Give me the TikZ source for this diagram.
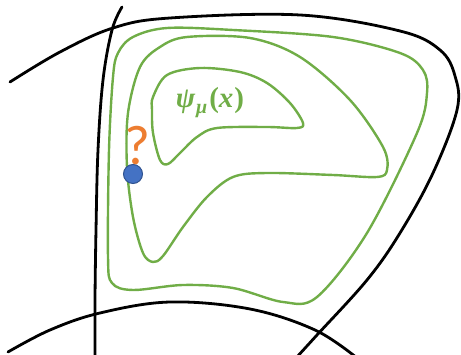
\documentclass[tikz,border=0pt]{standalone}
\usepackage{fontspec}
\newfontfamily\qfont{Carlito}
\newfontfamily\labserif{Liberation Serif}
\definecolor{cgreen}{HTML}{70AD47}
\definecolor{corange}{HTML}{ED7D31}
\definecolor{cblue}{HTML}{4472C4}
\definecolor{cblueb}{HTML}{2F528F}
\tikzset{
  blackline/.style={black, line width=2.8pt, line cap=round},
  greenline/.style={cgreen, line width=2.4pt, line join=round},
  labstyle/.style={text=cgreen, inner sep=0pt, font=\labserif\fontsize{29}{34}\selectfont\bfseries},
  qstyle/.style={text=corange, inner sep=0pt, font=\qfont\fontsize{56}{62}\selectfont},
}
\begin{document}
\begin{tikzpicture}[x=1pt,y=-1pt]
\useasboundingbox (0,0) rectangle (461,355);
\begin{scope}
\clip (0,0) rectangle (461,355);
\draw[blackline] plot[smooth, tension=0.6] coordinates {(10,82) (60,52) (113,28) (170,18) (300,15) (400,31) (440,50) (455,76) (457,110) (433,173) (400,233) (367,280) (317,335) (296,358)};
\draw[blackline] plot[smooth, tension=0.6] coordinates {(122,7) (112,30) (103,80) (98,150) (96,230) (95,300) (95,360)};
\draw[blackline] plot[smooth, tension=0.6] coordinates {(8,352) (50,330) (100,313) (170,302) (250,309) (315,330) (357,358)};
\draw[greenline] plot[smooth cycle, tension=0.55] coordinates {(113,77) (109,150) (108,257) (112,283) (133,290) (183,285) (233,288) (283,302) (317,297) (367,233) (417,133) (427,93) (423,70) (400,53) (333,37) (233,30) (167,28) (133,37) (118,53)};
\draw[greenline] plot[smooth cycle, tension=0.55] coordinates {(187,37) (250,38) (300,57) (350,100) (383,147) (387,170) (377,177) (333,175) (267,173) (233,177) (207,197) (183,227) (163,256) (153,262) (143,253) (133,217) (127,167) (128,113) (140,67) (160,47)};
\draw[greenline] plot[smooth cycle, tension=0.55] coordinates {(153,97) (167,75) (200,68) (240,72) (267,83) (290,103) (303,123) (297,128) (267,127) (217,128) (197,137) (180,153) (168,164) (160,160) (153,133) (152,110)};
\end{scope}
\node[labstyle] (lab) at (210,103) {\itshape ψ\kern1pt\raisebox{-6pt}{\fontsize{20}{24}\selectfont μ}\kern2pt\upshape(\itshape x\kern1pt\upshape)};
\node[qstyle] (q) at (137,146) {?};
\node[circle, fill=cblue, draw=cblueb, line width=1pt, minimum size=19pt, inner sep=0pt] (dot) at (133,174) {};
\end{tikzpicture}
\end{document}
